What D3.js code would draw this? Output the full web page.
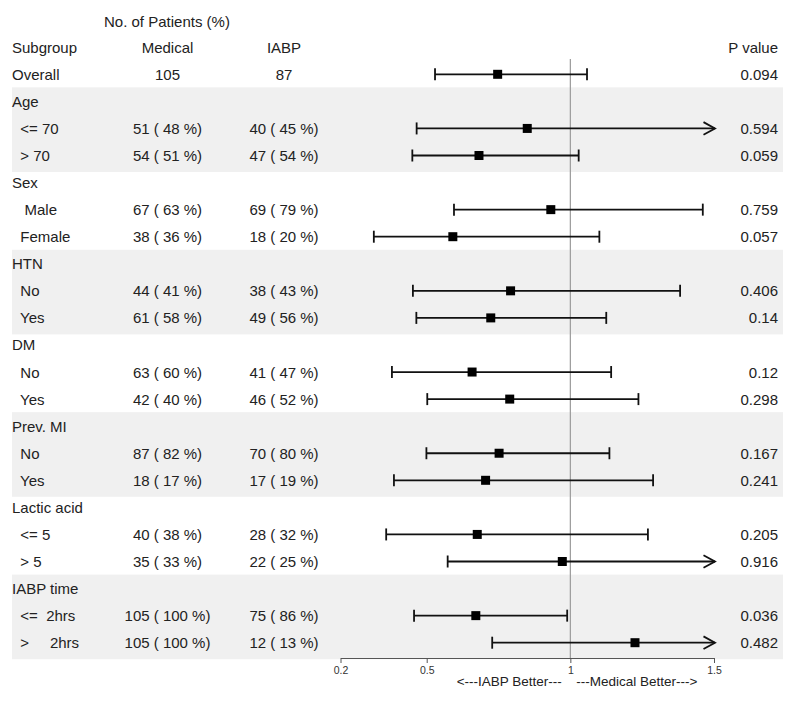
<!DOCTYPE html>
<html>
<head>
<meta charset="utf-8">
<script src="https://cdn.jsdelivr.net/npm/d3@7"></script>
<style>
  body { margin: 0; background: #fff; }
  svg text { font-family: "Liberation Sans", Arial, sans-serif; white-space: pre; }
</style>
</head>
<body>
<div class="plot"></div>
<script>
// rows of the table, top to bottom
const rowLabels = ["Overall", "Age", "  <= 70", "  > 70", "Sex", "   Male", "  Female",
  "HTN", "  No", "  Yes", "DM", "  No", "  Yes", "Prev. MI", "  No", "  Yes",
  "Lactic acid", "  <= 5", "  > 5", "IABP time", "  <=  2hrs", "  >     2hrs"];
const medical = ["105", "", "51 ( 48 %)", "54 ( 51 %)", "", "67 ( 63 %)", "38 ( 36 %)",
  "", "44 ( 41 %)", "61 ( 58 %)", "", "63 ( 60 %)", "42 ( 40 %)", "", "87 ( 82 %)", "18 ( 17 %)",
  "", "40 ( 38 %)", "35 ( 33 %)", "", "105 ( 100 %)", "105 ( 100 %)"];
const iabp = ["87", "", "40 ( 45 %)", "47 ( 54 %)", "", "69 ( 79 %)", "18 ( 20 %)",
  "", "38 ( 43 %)", "49 ( 56 %)", "", "41 ( 47 %)", "46 ( 52 %)", "", "70 ( 80 %)", "17 ( 19 %)",
  "", "28 ( 32 %)", "22 ( 25 %)", "", "75 ( 86 %)", "12 ( 13 %)"];
const pValues = ["0.094", "", "0.594", "0.059", "", "0.759", "0.057", "", "0.406", "0.14",
  "", "0.12", "0.298", "", "0.167", "0.241", "", "0.205", "0.916", "", "0.036", "0.482"];
// odds ratio with 95% CI (Infinity = beyond the axis, drawn as arrow)
const estimate = [0.747, null, 0.850, 0.682, null, 0.932, 0.591, null, 0.792, 0.723,
  null, 0.658, 0.789, null, 0.752, 0.705, null, 0.676, 0.972, null, 0.671, 1.225];
const lower = [0.529, null, 0.465, 0.450, null, 0.595, 0.316, null, 0.452, 0.464,
  null, 0.379, 0.502, null, 0.499, 0.386, null, 0.359, 0.573, null, 0.456, 0.728];
const upper = [1.058, null, Infinity, 1.029, null, 1.461, 1.101, null, 1.382, 1.125,
  null, 1.142, 1.237, null, 1.136, 1.288, null, 1.270, Infinity, null, 0.989, Infinity];
const groupStarts = [1, 4, 7, 10, 13, 16, 19];
const groupSize = 3;
const tickValues = [0.2, 0.5, 1, 1.5];

const width = 796, height = 702;
const svg = d3.select('.plot').append('svg')
  .attr('width', width)
  .attr('height', height);

const xScale = d3.scaleLinear().domain([0.2, 1.5]).range([340.5, 714]);
const yScale = d3.scaleLinear().domain([0, 21]).range([74.3, 642.7]);

const colMedical = 167.5, colIabp = 284, colP = 778, colLabel = 12;

// shaded groups (every other group)
svg.append('g').selectAll('rect')
  .data(groupStarts.filter((d, i) => i % 2 === 0))
  .enter().append('rect')
  .attr('x', 12)
  .attr('width', 771)
  .attr('y', d => yScale(d) - 14)
  .attr('height', d => yScale(d + groupSize - 1) - yScale(d) + 30.5)
  .attr('fill', '#f0f0f0');

// header
svg.append('text').attr('x', 104).attr('y', yScale(-2) + 7)
  .attr('font-size', 15).attr('fill', '#222').text('No. of Patients (%)');
const header = svg.append('g').attr('font-size', 15).attr('fill', '#222');
header.append('text').attr('x', colLabel).attr('y', yScale(-1) + 5.5).text('Subgroup');
header.append('text').attr('x', colMedical).attr('y', yScale(-1) + 5.5)
  .attr('text-anchor', 'middle').text('Medical');
header.append('text').attr('x', colIabp).attr('y', yScale(-1) + 5.5)
  .attr('text-anchor', 'middle').text('IABP');
header.append('text').attr('x', colP).attr('y', yScale(-1) + 5.5)
  .attr('text-anchor', 'end').text('P value');

// table text
const rows = svg.append('g').attr('font-size', 15).attr('fill', '#222')
  .selectAll('g').data(rowLabels).enter().append('g')
  .attr('transform', (d, i) => `translate(0,${yScale(i) + 5.5})`);
rows.append('text').attr('x', colLabel).text(d => d);
rows.append('text').attr('x', colMedical).attr('text-anchor', 'middle').text((d, i) => medical[i]);
rows.append('text').attr('x', colIabp).attr('text-anchor', 'middle').text((d, i) => iabp[i]);
rows.append('text').attr('x', colP).attr('text-anchor', 'end').text((d, i) => pValues[i]);

// reference line at 1
svg.append('line')
  .attr('x1', xScale(1)).attr('x2', xScale(1))
  .attr('y1', 59).attr('y2', 658)
  .attr('stroke', '#9a9a9a').attr('stroke-width', 1.2);

// x axis
const xAxis = svg.append('g')
  .attr('transform', 'translate(0,658)')
  .call(d3.axisBottom(xScale).tickValues(tickValues).tickSize(5).tickSizeOuter(0)
    .tickPadding(4).tickFormat(d => String(d)));
xAxis.select('.domain').attr('stroke', '#555');
xAxis.selectAll('.tick line').attr('stroke', '#555');
xAxis.selectAll('.tick text').attr('font-size', 10.5).attr('fill', '#333')
  .attr('font-family', '"Liberation Sans", Arial, sans-serif');

svg.append('text').attr('x', xScale(1) - 8.5).attr('y', 686)
  .attr('text-anchor', 'end').attr('font-size', 13.5).attr('fill', '#222')
  .text('<---IABP Better---');
svg.append('text').attr('x', xScale(1) + 6).attr('y', 686)
  .attr('font-size', 13.5).attr('fill', '#222')
  .text('---Medical Better--->');

// confidence intervals
const ciIdx = d3.range(rowLabels.length).filter(i => estimate[i] !== null);
const cis = svg.append('g').selectAll('g').data(ciIdx).enter().append('g')
  .attr('transform', i => `translate(0,${yScale(i)})`);
const maxX = xScale(1.5) + 1;
const hiX = i => upper[i] > 1.5 ? maxX : xScale(upper[i]);

cis.append('line')
  .attr('x1', i => xScale(lower[i])).attr('x2', hiX)
  .attr('stroke', '#111').attr('stroke-width', 1.8);
cis.append('line')
  .attr('x1', i => xScale(lower[i])).attr('x2', i => xScale(lower[i]))
  .attr('y1', -6).attr('y2', 6)
  .attr('stroke', '#111').attr('stroke-width', 1.8);
cis.filter(i => upper[i] <= 1.5).append('line')
  .attr('x1', hiX).attr('x2', hiX)
  .attr('y1', -6).attr('y2', 6)
  .attr('stroke', '#111').attr('stroke-width', 1.8);
cis.filter(i => upper[i] > 1.5).append('path')
  .attr('d', `M${maxX - 11.5},-6.3L${maxX},0L${maxX - 11.5},6.3`)
  .attr('fill', 'none').attr('stroke', '#111').attr('stroke-width', 1.8);
cis.append('rect')
  .attr('x', i => xScale(estimate[i]) - 4.5)
  .attr('y', -4.5)
  .attr('width', 9).attr('height', 9)
  .attr('fill', '#000');
</script>
</body>
</html>
